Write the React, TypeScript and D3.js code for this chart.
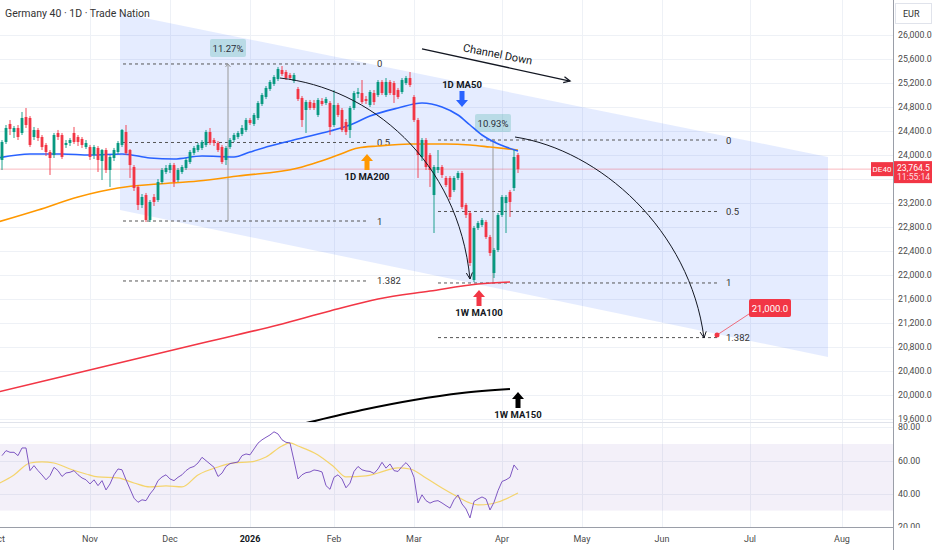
import React, { useRef, useEffect } from "react";
import * as d3 from "d3";

const W = 932;
const H = 550;
const AXIS_X = 893;
const MAIN_BOTTOM = 422;
const RSI_BOTTOM = 527.5;

// daily candles [open, high, low, close], bar index 1..130
const candles: [number, number, number, number][] = [
  [23917, 24250, 23750, 24217], [24217, 24500, 24183, 24450], [24517, 24583, 24333, 24433], [24383, 24483, 24283, 24450],
  [24450, 24500, 24250, 24300], [24367, 24717, 24333, 24617], [24633, 24783, 24450, 24500], [24617, 24650, 24133, 24167],
  [24300, 24467, 24250, 24417], [24417, 24450, 24233, 24283], [24300, 24333, 24083, 24133], [24167, 24200, 23983, 24050],
  [24050, 24083, 23667, 23950], [24000, 24367, 23950, 24333], [24367, 24417, 24250, 24300], [24333, 24367, 23933, 23967],
  [24167, 24250, 24117, 24200], [24200, 24283, 24150, 24250], [24367, 24467, 24183, 24217], [24300, 24333, 24150, 24217],
  [24267, 24300, 24117, 24167], [24133, 24250, 24100, 24200], [24133, 24167, 23917, 23967], [24000, 24167, 23933, 24133],
  [24117, 24150, 23717, 23917], [23900, 24100, 23583, 24083], [24083, 24117, 23700, 23750], [23750, 24000, 23467, 23967],
  [23950, 24117, 23900, 24083], [24050, 24233, 24017, 24200], [24167, 24433, 24133, 24417], [24383, 24500, 24000, 24033],
  [24083, 24100, 23617, 23833], [23800, 23833, 23400, 23450], [23467, 23500, 23083, 23167], [23167, 23350, 23117, 23300],
  [23333, 23367, 22883, 22917], [22917, 23250, 22883, 23217], [23300, 23350, 23150, 23217], [23250, 23600, 23217, 23550],
  [23550, 23783, 23517, 23750], [23717, 23833, 23683, 23783], [23750, 23867, 23700, 23833], [23833, 23867, 23467, 23550],
  [23583, 23783, 23550, 23750], [23717, 23833, 23683, 23800], [23783, 23950, 23750, 23917], [23883, 24083, 23850, 24050],
  [24033, 24150, 24000, 24117], [24083, 24200, 24050, 24167], [24117, 24250, 24083, 24217], [24167, 24417, 24133, 24383],
  [24383, 24450, 24167, 24200], [24250, 24283, 24150, 24200], [24200, 24233, 24050, 24083], [24133, 24167, 23850, 23883],
  [23917, 24150, 23833, 24117], [24133, 24283, 24100, 24250], [24250, 24367, 24217, 24333], [24300, 24400, 24267, 24367],
  [24350, 24500, 24317, 24450], [24417, 24617, 24383, 24583], [24583, 24617, 24500, 24533], [24517, 24700, 24483, 24667],
  [24617, 24900, 24583, 24867], [24850, 25033, 24817, 25000], [24967, 25150, 24933, 25117], [25100, 25250, 25067, 25217],
  [25183, 25333, 25150, 25300], [25267, 25467, 25233, 25433], [25417, 25483, 25317, 25350], [25383, 25417, 25250, 25283],
  [25333, 25367, 25250, 25283], [25233, 25367, 25200, 25333], [25100, 25133, 24900, 24933], [24950, 24983, 24467, 24583],
  [24750, 24917, 24367, 24883], [24883, 24917, 24750, 24783], [24867, 24917, 24750, 24783], [24667, 24950, 24633, 24917],
  [24900, 24950, 24817, 24850], [24867, 24967, 24833, 24933], [24867, 24900, 24333, 24467], [24500, 25083, 24467, 24833],
  [24833, 24867, 24633, 24667], [24750, 24783, 24383, 24417], [24550, 24600, 24333, 24383], [24417, 24817, 24283, 24783],
  [24783, 25067, 24750, 25033], [25017, 25117, 24950, 25050], [25033, 25250, 24850, 24883], [24933, 24983, 24850, 24900],
  [24833, 25083, 24800, 25050], [25033, 25083, 24833, 24883], [25000, 25250, 24967, 25217], [25217, 25250, 25000, 25033],
  [25000, 25283, 24967, 25217], [25217, 25250, 25000, 25033], [25200, 25233, 24867, 25000], [25083, 25117, 24933, 24967],
  [25050, 25283, 25017, 25250], [25200, 25317, 25167, 25283], [25283, 25383, 25133, 25167], [24967, 25000, 24550, 24583],
  [24583, 24617, 23617, 24000], [23967, 24283, 23900, 24250], [24250, 24283, 23750, 23800], [24000, 24033, 23467, 23750],
  [23333, 23833, 22700, 23800], [23750, 24083, 23700, 23800], [23800, 23833, 23617, 23667], [23617, 23650, 23467, 23500],
  [23617, 23650, 23250, 23300], [23417, 23650, 23383, 23617], [23617, 23733, 23583, 23700], [23700, 23733, 23100, 23133],
  [23167, 23200, 22950, 23000], [23033, 23067, 22150, 22200], [21917, 22817, 21883, 22783], [22783, 22900, 22750, 22867],
  [22833, 22950, 22800, 22917], [22883, 22917, 22600, 22633], [22633, 22667, 22317, 22367], [22033, 22450, 21950, 22417],
  [22417, 23033, 22383, 23000], [23000, 23333, 22967, 23300], [23200, 23333, 22700, 23300], [23383, 23417, 22967, 23217],
  [23450, 24083, 23400, 23967], [24000, 24033, 23700, 23764.5],
];

// RSI(14) per bar, index 1..130
const rsi = [
  63, 66, 65, 65, 63, 67.6, 67.6, 54, 57, 54,
  51.4, 48.5, 51, 56, 54, 50.5, 52.6, 53, 54, 51.5,
  49.6, 48.5, 46, 48.5, 45, 48, 42.4, 46, 51.5, 55,
  54.5, 48.5, 43, 37.5, 35, 36.5, 36, 40, 43, 48,
  50.2, 51.5, 49, 48, 50, 51.5, 54, 55.7, 56.5, 58.6,
  62, 60, 58, 56, 50.5, 52.5, 56.5, 58.2, 58.7, 59.2,
  63, 64, 63.5, 67, 70.5, 72.5, 74, 75.4, 77.3, 76,
  72.5, 71, 70.6, 60, 49, 51.5, 52.8, 53.2, 54.4, 54,
  53.2, 45, 42.8, 50, 51.5, 49, 43.7, 46.5, 53.5, 56.5,
  54.5, 53.8, 53.5, 52.3, 55, 59, 55.5, 58, 54, 53.5,
  56.5, 58.8, 56, 50, 34.6, 39.5, 36, 34.5, 35.6, 36,
  34.6, 33, 31.5, 36.5, 39.4, 34, 31, 25.6, 35.5, 37,
  38.2, 37, 30.4, 35, 42, 47.5, 48.5, 50, 57.4, 54.4,
];

// moving averages as [bar index, value]
const rsiMa: [number, number][] = [
  [0, 46], [4, 51.4], [8, 58.6], [11, 59.2], [14, 58.6], [18, 55], [22, 52], [25, 50.2], [30, 49.6], [34, 46.6],
  [38, 44.2], [42, 44.8], [46, 44.2], [50, 51.4], [55, 56.2], [59, 58.6], [63, 59.2], [67, 62.2], [71, 68.8], [73, 70.6],
  [75, 68.8], [80, 63.4], [84, 56.2], [87, 50.2], [92, 50.8], [95, 52.6], [100, 55.6], [103, 55], [107, 49.6], [111, 43.6],
  [115, 38.2], [118, 34.6], [120, 33.4], [123, 34], [125, 35.2], [128, 38.2], [130, 40.6],
];
const ma50: [number, number][] = [
  [0, 23950], [8, 24017], [16, 24017], [23, 24000], [31, 24017], [38, 23950], [44, 23933], [51, 23983], [59, 23967],
  [63, 24050], [68, 24150], [76, 24283], [83, 24400], [88, 24500], [93, 24650], [100, 24783], [106, 24867], [111, 24800],
  [115, 24667], [118, 24500], [121, 24333], [124, 24217], [127, 24133], [130, 24067],
];
const ma200: [number, number][] = [
  [0, 22883], [10, 23083], [20, 23300], [30, 23450], [40, 23517], [50, 23567], [60, 23650], [75, 23783], [80, 23883],
  [85, 24000], [90, 24117], [95, 24150], [103, 24183], [112, 24183], [118, 24167], [123, 24133], [130, 24083],
];
const wma100: [number, number][] = [
  [0, 20050], [25, 20450], [50, 20850], [70, 21167], [83, 21400], [95, 21600], [108, 21733], [120, 21850], [128, 21883],
];
const wma150: [number, number][] = [
  [40, 18900], [77, 19533], [91, 19750], [104, 19917], [116, 20033], [128, 20100],
];

const monthTicks: [string, number][] = [
  ["Oct", 0], ["Nov", 23], ["Dec", 43], ["2026", 63], ["Feb", 84], ["Mar", 104],
  ["Apr", 126], ["May", 146], ["Jun", 166], ["Jul", 188], ["Aug", 211],
];
const priceTicks = d3.range(19600, 26001, 400);
const rsiTicks = [80, 60, 40, 20];

// drawings
const channel: [number, number][] = [[30.5, 26367], [207.5, 23967], [207.5, 20633], [30.5, 23083]];
const fibLevels = [0, 0.5, 1, 1.382];
const fibLeft = { i0: 31.25, i1: 92.5, p0: 25517, p1: 22900, labelI: 94.75 };
const fibRight = { i0: 110, i1: 180.5, p0: 24250, p1: 21867, labelI: 182 };
const lastPrice = 23764.5;
const target = 21000;

const GREEN = "#089981";
const RED = "#f23645";
const FONT = "Roboto, 'Noto Sans', sans-serif";

export default function App() {
  const ref = useRef<SVGSVGElement>(null);

  useEffect(() => {
    if (!ref.current) return;
    const svg = d3.select(ref.current);
    svg.selectAll("*").remove();

    const x = d3.scaleLinear().domain([0, 1]).range([-2, 2]);
    const y = d3.scaleLinear().domain([19600, 26000]).range([419, 35]);
    const ry = d3.scaleLinear().domain([20, 80]).range([527.3, 427.3]);

    const defs = svg.append("defs");
    defs.append("clipPath").attr("id", "mainClip")
      .append("rect").attr("x", 0).attr("y", 0).attr("width", AXIS_X).attr("height", MAIN_BOTTOM);
    defs.append("clipPath").attr("id", "rsiClip")
      .append("rect").attr("x", 0).attr("y", MAIN_BOTTOM + 1).attr("width", AXIS_X).attr("height", RSI_BOTTOM - MAIN_BOTTOM - 1);

    svg.append("rect").attr("width", W).attr("height", H).attr("fill", "#fff");

    // grid
    const grid = svg.append("g").attr("stroke", "#eef1f6").attr("stroke-width", 1);
    monthTicks.forEach(([, i]) => {
      grid.append("line").attr("x1", Math.round(x(i)) + 0.5).attr("x2", Math.round(x(i)) + 0.5)
        .attr("y1", 0).attr("y2", RSI_BOTTOM);
    });
    priceTicks.forEach((p) => {
      grid.append("line").attr("x1", 0).attr("x2", AXIS_X).attr("y1", Math.round(y(p)) + 0.5).attr("y2", Math.round(y(p)) + 0.5);
    });
    rsiTicks.forEach((v) => {
      grid.append("line").attr("x1", 0).attr("x2", AXIS_X).attr("y1", Math.round(ry(v)) + 0.5).attr("y2", Math.round(ry(v)) + 0.5);
    });

    const main = svg.append("g").attr("clip-path", "url(#mainClip)");

    // channel
    main.append("path")
      .attr("d", "M" + channel.map(([i, p]) => `${x(i)},${y(p)}`).join("L") + "Z")
      .attr("fill", "rgba(41,98,255,0.12)");

    // current price line
    main.append("line").attr("x1", 0).attr("x2", AXIS_X).attr("y1", y(lastPrice)).attr("y2", y(lastPrice))
      .attr("stroke", RED).attr("stroke-opacity", 0.35).attr("stroke-width", 1);

    // fib retracements
    [fibLeft, fibRight].forEach((f) => {
      fibLevels.forEach((r) => {
        const p = f.p0 + (f.p1 - f.p0) * r;
        main.append("line").attr("x1", x(f.i0)).attr("x2", x(f.i1)).attr("y1", y(p)).attr("y2", y(p))
          .attr("stroke", "#555").attr("stroke-width", 1).attr("stroke-dasharray", "3,3");
        main.append("text").attr("x", x(f.labelI)).attr("y", y(p) + 3.5).text(String(r))
          .attr("font-size", 9.5).attr("fill", "#333").attr("font-family", FONT);
      });
    });

    // measurement boxes
    const measure = (i: number, pLow: number, pHigh: number, pBox: number, label: string) => {
      main.append("line").attr("x1", x(i)).attr("x2", x(i)).attr("y1", y(pLow)).attr("y2", y(pHigh))
        .attr("stroke", "#999").attr("stroke-width", 1);
      main.append("path")
        .attr("d", `M${x(i) - 2.5},${y(pHigh) + 3}L${x(i)},${y(pHigh)}L${x(i) + 2.5},${y(pHigh) + 3}`)
        .attr("fill", "none").attr("stroke", "#999");
      main.append("rect").attr("x", x(i) - 18).attr("y", y(pBox) - 9).attr("width", 36).attr("height", 18)
        .attr("rx", 2).attr("fill", "rgba(8,153,129,0.2)");
      main.append("text").attr("x", x(i)).attr("y", y(pBox) + 3.5).attr("text-anchor", "middle").text(label)
        .attr("font-size", 9.5).attr("fill", "#2a2e39").attr("font-family", FONT);
    };
    measure(57.5, 22900, 25517, 25783, "11.27%");
    measure(123.75, 21883, 24267, 24533, "10.93%");

    // moving averages
    const maLine = d3.line<[number, number]>().x((d) => x(d[0])).y((d) => y(d[1])).curve(d3.curveMonotoneX);
    const drawMa = (pts: [number, number][], color: string, w: number) =>
      main.append("path").attr("d", maLine(pts)).attr("fill", "none").attr("stroke", color).attr("stroke-width", w);
    drawMa(wma150, "#000", 2);
    drawMa(wma100, RED, 1.6);
    drawMa(ma200, "#ff9800", 1.6);
    drawMa(ma50, "#2962ff", 1.6);

    // candles
    const cg = main.append("g");
    candles.forEach(([o, h, l, c], k) => {
      const i = k + 1;
      const col = c >= o ? GREEN : RED;
      const cx = x(i);
      cg.append("line").attr("x1", cx).attr("x2", cx).attr("y1", y(h)).attr("y2", y(l))
        .attr("stroke", col).attr("stroke-width", 0.9);
      const top = y(Math.max(o, c));
      const bh = Math.max(1, Math.abs(y(o) - y(c)));
      cg.append("rect").attr("x", cx - 1.4).attr("y", top).attr("width", 2.8).attr("height", bh).attr("fill", col);
    });

    // curved arrows
    const headAt = (tx: number, ty: number, fx: number, fy: number) => {
      const a = Math.atan2(ty - fy, tx - fx);
      const L = 7;
      const s = 0.45;
      return `M${tx - L * Math.cos(a - s)},${ty - L * Math.sin(a - s)}L${tx},${ty}L${tx - L * Math.cos(a + s)},${ty - L * Math.sin(a + s)}`;
    };
    const curve = (pts: [number, number][]) => {
      const q = pts.map(([i, p]) => [x(i), y(p)]);
      const path = d3.path();
      path.moveTo(q[0][0], q[0][1]);
      path.bezierCurveTo(q[1][0], q[1][1], q[2][0], q[2][1], q[3][0], q[3][1]);
      main.append("path").attr("d", path.toString()).attr("fill", "none").attr("stroke", "#131722").attr("stroke-width", 1);
      main.append("path").attr("d", headAt(q[3][0], q[3][1], q[2][0], q[2][1]))
        .attr("fill", "none").attr("stroke", "#131722").attr("stroke-width", 1);
    };
    curve([[70.5, 25283], [93, 25117], [115, 23917], [118, 21933]]);
    curve([[129.25, 24300], [150.5, 24083], [173, 22750], [176.5, 20950]]);

    // Channel Down arrow
    const a0 = [x(106), y(25767)];
    const a1 = [x(143), y(25233)];
    main.append("line").attr("x1", a0[0]).attr("y1", a0[1]).attr("x2", a1[0]).attr("y2", a1[1])
      .attr("stroke", "#131722").attr("stroke-width", 1.3);
    main.append("path").attr("d", headAt(a1[0], a1[1], a0[0], a0[1])).attr("fill", "none")
      .attr("stroke", "#131722").attr("stroke-width", 1.3);
    main.append("text").attr("transform", `translate(${x(124.75)},${y(25617)}) rotate(11)`)
      .attr("text-anchor", "middle").text("Channel Down")
      .attr("font-size", 11).attr("fill", "#131722").attr("font-family", FONT);

    // block arrows with labels
    const blockArrow = (i: number, p: number, dir: "up" | "down", color: string, label: string) => {
      const cx = x(i);
      const ty = y(p);
      const s = dir === "up" ? 1 : -1;
      const pts = [
        [0, 0], [6, 7], [2.5, 7], [2.5, 16], [-2.5, 16], [-2.5, 7], [-6, 7],
      ].map(([dx, dy]) => `${cx + dx},${ty + s * dy}`);
      main.append("path").attr("d", "M" + pts.join("L") + "Z").attr("fill", color);
      const ly = dir === "up" ? ty + 26 : ty - 19;
      main.append("text").attr("x", cx).attr("y", ly).attr("text-anchor", "middle").text(label)
        .attr("font-size", 9.5).attr("font-weight", 700).attr("fill", "#131722").attr("font-family", FONT);
    };
    blockArrow(116, 24800, "down", "#2962ff", "1D MA50");
    blockArrow(92.25, 24017, "up", "#ff9800", "1D MA200");
    blockArrow(120.25, 21750, "up", RED, "1W MA100");
    blockArrow(130, 20050, "up", "#000", "1W MA150");

    // target
    const tx = x(179.75);
    const ty = y(target);
    const bx = x(193);
    const by = y(21450);
    main.append("line").attr("x1", tx).attr("y1", ty).attr("x2", bx - 18).attr("y2", by + 4)
      .attr("stroke", RED).attr("stroke-opacity", 0.7);
    main.append("circle").attr("cx", tx).attr("cy", ty).attr("r", 2.5).attr("fill", RED);
    main.append("rect").attr("x", bx - 21).attr("y", by - 9).attr("width", 42).attr("height", 18).attr("rx", 2).attr("fill", RED);
    main.append("text").attr("x", bx).attr("y", by + 3.5).attr("text-anchor", "middle").text(d3.format(",.1f")(target))
      .attr("font-size", 9.5).attr("fill", "#fff").attr("font-family", FONT);

    // RSI pane
    const rsiG = svg.append("g").attr("clip-path", "url(#rsiClip)");
    rsiG.append("rect").attr("x", 0).attr("width", AXIS_X).attr("y", ry(70)).attr("height", ry(30) - ry(70))
      .attr("fill", "rgba(126,87,194,0.09)");
    rsiG.append("path")
      .attr("d", d3.line<[number, number]>().x((d) => x(d[0])).y((d) => ry(d[1])).curve(d3.curveMonotoneX)(rsiMa))
      .attr("fill", "none").attr("stroke", "#f5cf52").attr("stroke-opacity", 0.85).attr("stroke-width", 1.2);
    rsiG.append("path")
      .attr("d", d3.line<number>().x((_, k) => x(k + 1)).y((d) => ry(d))(rsi))
      .attr("fill", "none").attr("stroke", "#7e57c2").attr("stroke-width", 1);

    // pane borders
    svg.append("line").attr("x1", 0).attr("x2", AXIS_X).attr("y1", MAIN_BOTTOM + 0.5).attr("y2", MAIN_BOTTOM + 0.5)
      .attr("stroke", "#e0e3eb");
    svg.append("line").attr("x1", 0).attr("x2", AXIS_X).attr("y1", RSI_BOTTOM).attr("y2", RSI_BOTTOM)
      .attr("stroke", "#9a9ea8");
    svg.append("line").attr("x1", AXIS_X + 0.5).attr("x2", AXIS_X + 0.5).attr("y1", 0).attr("y2", H)
      .attr("stroke", "#9a9ea8");

    // title
    svg.append("text").attr("x", 5).attr("y", 17).text("Germany 40 · 1D · Trade Nation")
      .attr("font-size", 10.5).attr("fill", "#333").attr("font-family", FONT);

    // price axis
    const fmt = d3.format(",.1f");
    const ax = svg.append("g").attr("font-family", FONT).attr("font-size", 8.8).attr("fill", "#4a4a4a");
    priceTicks.forEach((p) => {
      if (Math.abs(y(p) - y(lastPrice)) < 13) return;
      ax.append("text").attr("x", AXIS_X + 5).attr("y", y(p) + 3).text(fmt(p));
    });
    rsiTicks.forEach((v) => {
      ax.append("text").attr("x", AXIS_X + 5).attr("y", ry(v) + 3).text(d3.format(".2f")(v));
    });
    svg.append("rect").attr("x", AXIS_X + 1).attr("y", RSI_BOTTOM + 0.5).attr("width", W - AXIS_X).attr("height", H - RSI_BOTTOM)
      .attr("fill", "#fff");
    svg.append("rect").attr("x", AXIS_X + 2.5).attr("y", 3.5).attr("width", 36).attr("height", 20)
      .attr("fill", "#fff").attr("stroke", "#e0e3eb");
    svg.append("text").attr("x", AXIS_X + 10).attr("y", 17).text("EUR")
      .attr("font-size", 9).attr("fill", "#333").attr("font-family", FONT);

    // last price tags
    const ly = y(lastPrice);
    svg.append("rect").attr("x", AXIS_X + 1).attr("y", ly - 8).attr("width", W - AXIS_X).attr("height", 22).attr("fill", RED);
    svg.append("text").attr("x", AXIS_X + 4).attr("y", ly + 1.5).text(fmt(lastPrice))
      .attr("font-size", 8.6).attr("fill", "#fff").attr("font-family", FONT);
    svg.append("text").attr("x", AXIS_X + 4).attr("y", ly + 11).text("11:55:14")
      .attr("font-size", 8.6).attr("fill", "#ffdde0").attr("font-family", FONT);
    svg.append("rect").attr("x", AXIS_X - 22).attr("y", ly - 7).attr("width", 22).attr("height", 14).attr("fill", RED);
    svg.append("text").attr("x", AXIS_X - 11).attr("y", ly + 3).attr("text-anchor", "middle").text("DE40")
      .attr("font-size", 8).attr("fill", "#fff").attr("font-family", FONT);

    // time axis
    monthTicks.forEach(([label, i]) => {
      svg.append("text").attr("x", x(i)).attr("y", 542).attr("text-anchor", "middle").text(label)
        .attr("font-size", 9).attr("font-weight", label === "2026" ? 700 : 400)
        .attr("fill", label === "2026" ? "#131722" : "#4a4a4a").attr("font-family", FONT);
    });
  }, []);

  return (
    <svg
      ref={ref}
      width={W}
      height={H}
      style={{ position: "absolute", left: 0, top: 0, display: "block" }}
    />
  );
}
